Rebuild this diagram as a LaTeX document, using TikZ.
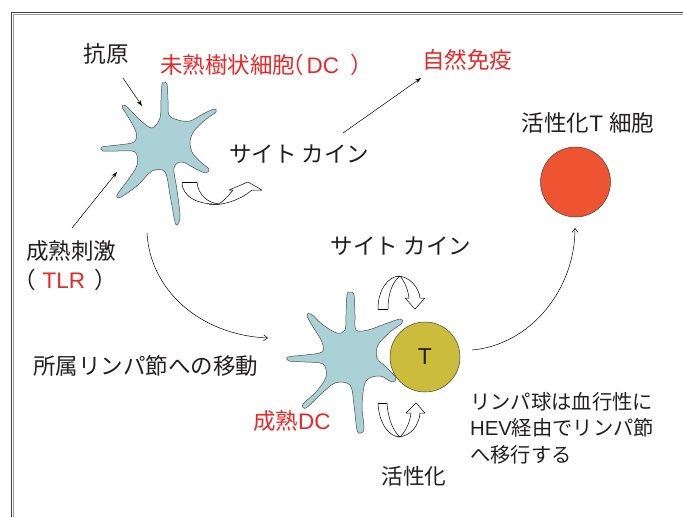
\documentclass[tikz,border=0pt]{standalone}
\usepackage{fontspec}
\setmainfont{Noto Sans CJK JP}
\newfontfamily\lat{Liberation Sans}
\usetikzlibrary{arrows.meta}
\definecolor{dcred}{RGB}{232,40,40}
\definecolor{cellcyan}{RGB}{170,210,214}
\definecolor{tcellcol}{RGB}{204,188,60}
\definecolor{actred}{RGB}{238,83,50}
\definecolor{ink}{RGB}{35,31,32}

\begin{document}
\begin{tikzpicture}[x=1pt,y=-1pt,
  lbl/.style={inner sep=0pt, text=ink, font=\fontsize{22.5}{27}\selectfont},
  redlbl/.style={lbl, text=dcred},
  ptr/.style={-{Stealth[length=6pt,width=4pt]}, line width=0.5pt},
  flow/.style={-{Straight Barb[length=4pt,width=6pt]}, line width=0.5pt},
  dccell/.style={fill=cellcyan, draw=black!70, line width=0.5pt},
  roundcell/.style={circle, draw=black!75, line width=0.5pt, minimum size=70pt, inner sep=0pt},
  turnarrow/.style={draw=black, line width=0.5pt, line join=round}]

\useasboundingbox (0,0) rectangle (683,517);
\fill[white] (0,0) rectangle (683,517);

% slide frame
\draw[black!75, line width=1.6pt] (683,12.5) -- (11.5,12.5) -- (11.5,517);
\draw[black!40, line width=0.7pt] (683,14.2) -- (13.2,14.2) -- (13.2,517);

% immature dendritic cell
\draw[dccell] plot[smooth cycle, tension=0.55] coordinates {
  (164,83) (167,84) (168,100) (169,115) (178,120) (190,121) (203,114)
  (214,109) (216,112) (205,120) (194,131) (190,142) (193,154) (203,164)
  (209,169) (206,173) (196,169) (182,162) (174,168) (177,190) (180,215)
  (178,224) (175,222) (170,195) (165,172) (152,171) (138,185) (121,197)
  (117,195) (128,180) (137,165) (135,152) (118,151) (103,151) (102,147)
  (118,145) (134,142) (136,132) (127,115) (122,107) (126,106) (140,120)
  (152,128) (160,118) (161,100) (162,84)};
\coordinate (dc1) at (163,142);

% mature dendritic cell in the lymph node
\draw[dccell] plot[smooth cycle, tension=0.55] coordinates {
  (350,292) (354,295) (355,315) (356,330) (368,330) (385,324) (400,319)
  (402,323) (390,332) (378,345) (377,358) (386,367) (396,378) (392,382)
  (380,376) (366,381) (362,405) (364,428) (361,433) (357,430) (354,405)
  (350,385) (335,383) (320,395) (306,408) (303,404) (316,392) (326,377)
  (323,364) (305,362) (289,361) (288,357) (305,355) (322,352) (322,342)
  (315,330) (307,316) (311,314) (323,325) (337,333) (345,330) (346,315)
  (347,295)};
\coordinate (dc2) at (350,360);

% cells
\node[roundcell, fill=tcellcol, text=ink, font=\fontsize{23}{27}\selectfont\lat] (tcell) at (425,357) {T};
\node[roundcell, fill=actred] (actcell) at (575.5,182) {};

% labels
\node[lbl] (antigen) at (106,54) {抗原};
\node[redlbl, anchor=west] (immature) at (160,65) {未熟樹状細胞\hspace{-14pt}（\hspace{3pt}{\lat DC}\hspace{11pt}）};
\node[redlbl] (innate) at (467,60) {自然免疫};
\node[lbl, anchor=west] (cyto1) at (229,154) {サイト カイン};
\node[lbl] (cyto2) at (401,246) {サイト カイン};
\node[lbl] (activeT) at (588,123) {活性化{\lat T}\hspace{6pt}細胞};
\node[lbl, anchor=west] (stim) at (26,251) {成熟刺激};
\node[lbl, anchor=west] (tlr) at (13,280) {（\hspace{7pt}{\color{dcred}\lat TLR}\hspace{9pt}）};
\node[lbl, anchor=west] (migrate) at (33,366) {所属リンパ節への移動};
\node[redlbl, anchor=west] (mature) at (253,421) {成熟{\lat DC}};
\node[lbl, anchor=north west, align=left, font=\fontsize{20.3}{26.5}\selectfont] (homing) at (470,392)
  {リンパ球は血行性に\\{\lat HEV}経由でリンパ節\\へ移行する};
\node[lbl, font=\fontsize{21.7}{26}\selectfont] (activation) at (414,476) {活性化};

% straight pointers
\coordinate (agfrom) at (123,78);
\coordinate (agto) at (142,106);
\draw[ptr] (agfrom) -- (agto);
\coordinate (stimfrom) at (72,228);
\coordinate (stimto) at (117,172);
\draw[ptr] (stimfrom) -- (stimto);
\coordinate (cytofrom) at (343,133);
\coordinate (innateto) at (421,78);
\draw[ptr] (cytofrom) -- (innateto);

% migration to the lymph node
\coordinate (migfrom) at (147,233);
\coordinate (migto) at (268,338);
\draw[flow] (migfrom) .. controls (150,290) and (200,335) .. (migto);

% activated T cell leaves
\coordinate (tout) at (472,350);
\coordinate (actin) at (575,228);
\draw[flow] (tout) .. controls (530,345) and (575,290) .. (actin);

% hollow U-turn arrow below the immature cell
\draw[turnarrow] (182,182) -- (197,182);
\draw[turnarrow] (182,182) .. controls (182,198) and (200,205) .. (219,204);
\draw[turnarrow] (197,182) .. controls (198,195) and (208,203) .. (219,204);
\draw[turnarrow] (219,204) .. controls (225,200) and (229,195) .. (233,190);
\draw[turnarrow] (209,204.6) .. controls (225,206) and (243,198) .. (252,190);
\draw[turnarrow] (233,190) -- (229,190) -- (248,182) -- (262,190) -- (252,190);

% hollow arch arrow above the T cell
\draw[turnarrow] (378,309) -- (388,309);
\draw[turnarrow] (378,309) .. controls (378,290) and (388,276) .. (400,276);
\draw[turnarrow] (388,309) .. controls (388,293) and (393,281) .. (400,276);
\draw[turnarrow] (400,276) .. controls (405,282) and (408,290) .. (409,298);
\draw[turnarrow] (397,276) .. controls (410,276) and (419,288) .. (420,298);
\draw[turnarrow] (409,298) -- (405,298) -- (415,309) -- (425,298) -- (420,298);

% hollow U-turn arrow below the T cell
\draw[turnarrow] (378,403) -- (387,403);
\draw[turnarrow] (378,403) .. controls (379,425) and (390,437) .. (400,437);
\draw[turnarrow] (387,403) .. controls (388,420) and (394,432) .. (400,437);
\draw[turnarrow] (400,437) .. controls (406,431) and (410,422) .. (411,413);
\draw[turnarrow] (397,437) .. controls (410,437) and (419,426) .. (420,413);
\draw[turnarrow] (411,413) -- (406,413) -- (416,403) -- (425,413) -- (420,413);

\end{tikzpicture}
\end{document}
